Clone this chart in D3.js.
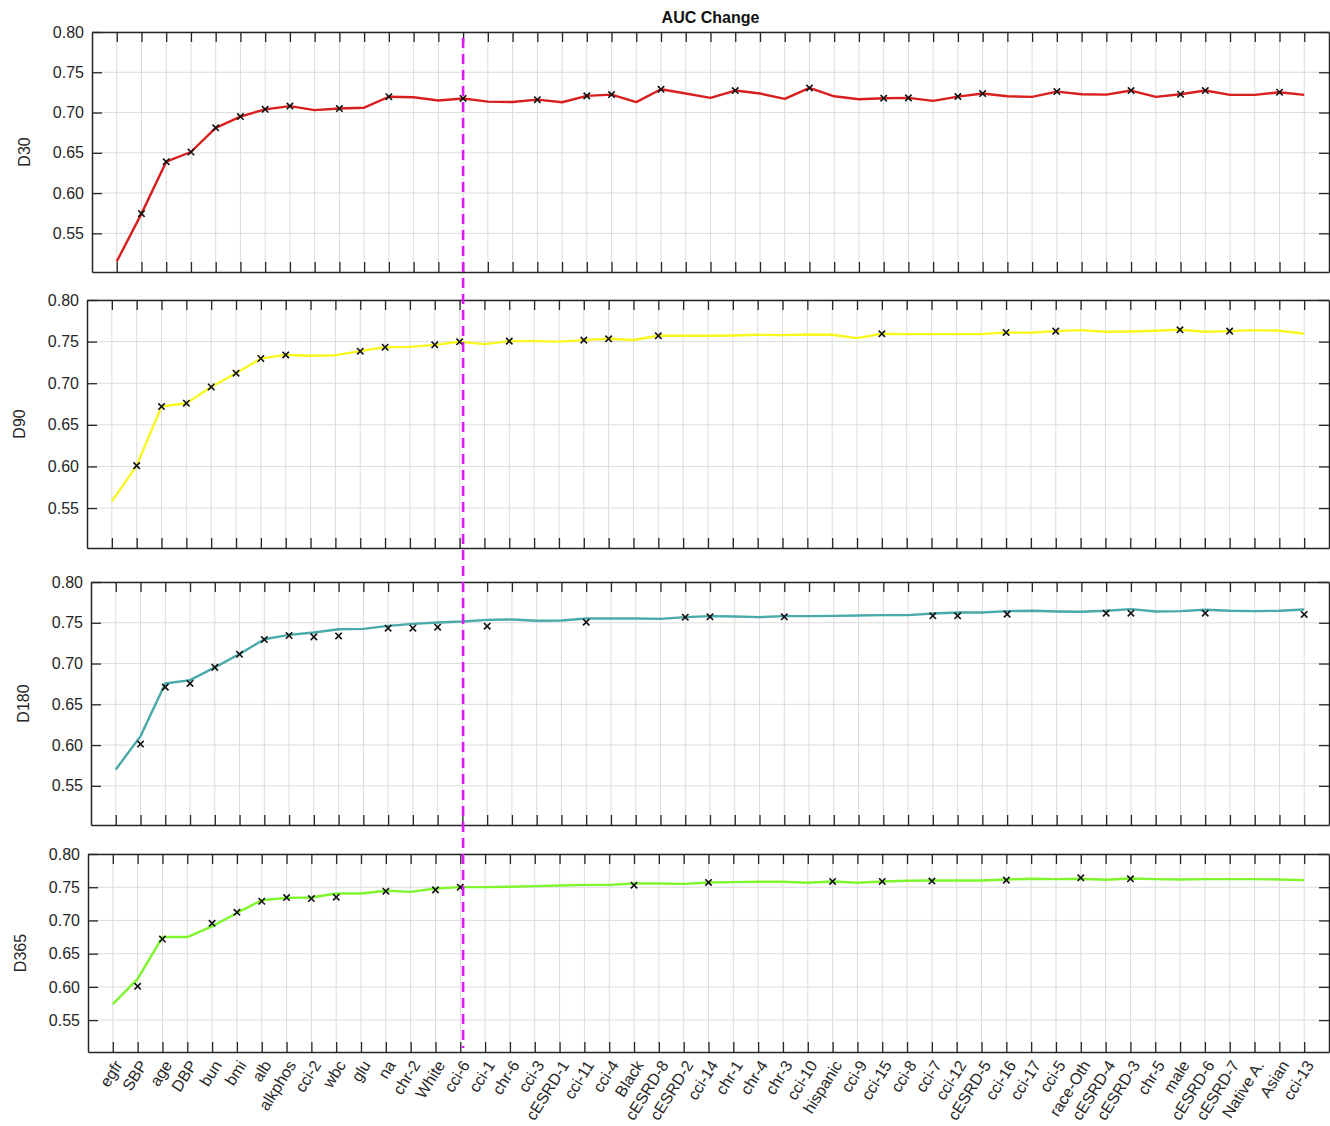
<!DOCTYPE html>
<html>
<head>
<meta charset="utf-8">
<script src="https://d3js.org/d3.v7.min.js"></script>
<style>
  body { margin: 0; background: #fff; }
  text { font-family: "Liberation Sans", Arial, Helvetica, sans-serif; fill: #262626; }
</style>
</head>
<body>
<script>
// feature order (x axis)
var features = ["egfr", "SBP", "age", "DBP", "bun", "bmi", "alb", "alkphos", "cci-2", "wbc",
  "glu", "na", "chr-2", "White", "cci-6", "cci-1", "chr-6", "cci-3", "cESRD-1", "cci-11",
  "cci-4", "Black", "cESRD-8", "cESRD-2", "cci-14", "chr-1", "chr-4", "chr-3", "cci-10", "hispanic",
  "cci-9", "cci-15", "cci-8", "cci-7", "cci-12", "cESRD-5", "cci-16", "cci-17", "cci-5", "race-Oth",
  "cESRD-4", "cESRD-3", "chr-5", "male", "cESRD-6", "cESRD-7", "Native A.", "Asian", "cci-13"];

var yTicks = [0.55, 0.60, 0.65, 0.70, 0.75, 0.80];
var cutFeature = 15;   // cci-6, dashed line

// AUC curves
var d30 = [0.515, 0.5745, 0.639, 0.651, 0.681, 0.695, 0.704, 0.708, 0.703, 0.705,
  0.706, 0.7196, 0.719, 0.715, 0.7175, 0.7135, 0.713, 0.716, 0.7128, 0.7207,
  0.7223, 0.713, 0.7289, 0.7236, 0.7182, 0.7273, 0.7236, 0.717, 0.7306, 0.7202,
  0.7165, 0.7178, 0.7182, 0.7145, 0.7198, 0.7236, 0.7202, 0.7194, 0.726, 0.7227,
  0.7223, 0.7273, 0.7194, 0.7227, 0.7273, 0.7219, 0.7219, 0.7252, 0.7219];
var d90 = [0.558, 0.601, 0.672, 0.676, 0.6955, 0.712, 0.7297, 0.734, 0.733, 0.7337,
  0.7385, 0.7433, 0.7437, 0.7461, 0.7498, 0.747, 0.7506, 0.7506, 0.750, 0.7518,
  0.7534, 0.752, 0.757, 0.757, 0.757, 0.7574, 0.7582, 0.7578, 0.7586, 0.7582,
  0.7542, 0.7594, 0.759, 0.759, 0.759, 0.759, 0.761, 0.7606, 0.7626, 0.7638,
  0.7618, 0.7622, 0.763, 0.7642, 0.7618, 0.7626, 0.7638, 0.763, 0.7594];
var d180 = [0.570, 0.611, 0.6756, 0.6797, 0.6953, 0.7117, 0.7298, 0.7351, 0.738, 0.7421,
  0.7425, 0.7462, 0.7487, 0.7503, 0.7516, 0.7536, 0.754, 0.7524, 0.7528, 0.7553,
  0.7553, 0.7553, 0.7548, 0.7569, 0.7581, 0.7577, 0.7569, 0.7581, 0.7581, 0.7585,
  0.759, 0.7594, 0.7594, 0.7614, 0.7626, 0.7626, 0.7643, 0.7647, 0.7639, 0.7635,
  0.7647, 0.7667, 0.7639, 0.7643, 0.7659, 0.7647, 0.7643, 0.7647, 0.7663];
var d365 = [0.574, 0.612, 0.675, 0.675, 0.6911, 0.7113, 0.7304, 0.734, 0.7345, 0.7405,
  0.7405, 0.7446, 0.743, 0.7481, 0.7501, 0.7501, 0.7506, 0.7516, 0.7526, 0.7536,
  0.7536, 0.7556, 0.7556, 0.7551, 0.7572, 0.7577, 0.7582, 0.7582, 0.7567, 0.7587,
  0.7567, 0.7587, 0.7597, 0.7602, 0.7602, 0.7602, 0.7617, 0.7627, 0.7622, 0.7627,
  0.7612, 0.7632, 0.7622, 0.7617, 0.7622, 0.7622, 0.7622, 0.7617, 0.7607];

// 'x' markers: feature number (1-based) and value
var d30Marks = [2, 3, 4, 5, 6, 7, 8, 10, 12, 15, 18, 20, 21, 23, 26, 29, 32, 33, 35, 36, 39, 42, 44, 45, 48];
var d90Marks = [2, 3, 4, 5, 6, 7, 8, 11, 12, 14, 15, 17, 20, 21, 23, 32, 37, 39, 44, 46];
var d180Marks = [2, 3, 4, 5, 6, 7, 8, 9, 10, 12, 13, 14, 16, 20, 24, 25, 28, 34, 35, 37, 41, 42, 45, 49];
var d180MarkVals = [0.6013, 0.6711, 0.6756, 0.6953, 0.7113, 0.7294, 0.7343, 0.7327, 0.7339, 0.7433,
  0.7433, 0.7446, 0.7458, 0.7507, 0.7569, 0.7573, 0.7573, 0.7585, 0.7585, 0.7606,
  0.7618, 0.7618, 0.7618, 0.7602];
var d365Marks = [2, 3, 5, 6, 7, 8, 9, 10, 12, 14, 15, 22, 25, 30, 32, 34, 37, 40, 42];
var d365MarkVals = [0.6009, 0.672, 0.6957, 0.7123, 0.7289, 0.7345, 0.733, 0.735, 0.744, 0.746,
  0.750, 0.7531, 0.7572, 0.7587, 0.7587, 0.7592, 0.7607, 0.7642, 0.7627];

var panels = [
  {name: "D30", values: d30, marks: d30Marks, markVals: d30Marks.map(function(i) { return d30[i - 1]; }),
   color: "#d81e1e", left: 92, top: 32, bottom: 272},
  {name: "D90", values: d90, marks: d90Marks, markVals: d90Marks.map(function(i) { return d90[i - 1]; }),
   color: "#f8f820", left: 87, top: 300, bottom: 548},
  {name: "D180", values: d180, marks: d180Marks, markVals: d180MarkVals,
   color: "#4aa9a9", left: 91, top: 582, bottom: 825},
  {name: "D365", values: d365, marks: d365Marks, markVals: d365MarkVals,
   color: "#7ef52c", left: 88, top: 854, bottom: 1052}
];

var width = 1330, height = 1126, right = 1329;

var svg = d3.select("body").append("svg")
    .attr("width", width)
    .attr("height", height);

var scales = [];

panels.forEach(function(p, k) {
  var x = d3.scaleLinear().domain([0, 50]).range([p.left, right]);
  var y = d3.scaleLinear().domain([0.502, 0.80]).range([p.bottom, p.top]);
  scales.push({x: x, y: y});
  var xt = d3.range(1, 50);
  var g = svg.append("g");

  // grid
  g.append("g").selectAll("line").data(xt).enter().append("line")
      .attr("x1", x).attr("x2", x).attr("y1", p.top).attr("y2", p.bottom)
      .style("stroke", "#dcdcdc").style("stroke-width", 1);
  g.append("g").selectAll("line").data(yTicks).enter().append("line")
      .attr("x1", p.left).attr("x2", right).attr("y1", y).attr("y2", y)
      .style("stroke", "#dcdcdc").style("stroke-width", 1);

  // curve
  var line = d3.line()
      .x(function(d, i) { return x(i + 1); })
      .y(function(d) { return y(d); });
  g.append("path")
      .datum(p.values)
      .attr("d", line)
      .style("fill", "none")
      .style("stroke", p.color)
      .style("stroke-width", 2.4)
      .style("stroke-linejoin", "round");

  // markers
  g.append("g").selectAll("path").data(p.marks).enter().append("path")
      .attr("transform", function(d, i) { return "translate(" + x(d) + "," + y(p.markVals[i]) + ")"; })
      .attr("d", "M-3.2,-3.2L3.2,3.2M-3.2,3.2L3.2,-3.2")
      .style("stroke", "#111")
      .style("stroke-width", 1.6);

  // axes (ticks pointing inward, MATLAB box)
  var axB = d3.axisBottom(x).tickValues(xt).tickSizeInner(-10).tickSizeOuter(0)
      .tickFormat(function(d) { return k === panels.length - 1 ? features[d - 1] : ""; });
  var axT = d3.axisTop(x).tickValues(xt).tickSizeInner(-10).tickSizeOuter(0).tickFormat("");
  var axL = d3.axisLeft(y).tickValues(yTicks).tickSizeInner(-10).tickSizeOuter(0).tickPadding(8)
      .tickFormat(d3.format(".2f"));
  var axR = d3.axisRight(y).tickValues(yTicks).tickSizeInner(-10).tickSizeOuter(0).tickFormat("");

  var gb = g.append("g").attr("transform", "translate(0," + p.bottom + ")").call(axB);
  g.append("g").attr("transform", "translate(0," + p.top + ")").call(axT);
  var gl = g.append("g").attr("transform", "translate(" + p.left + ",0)").call(axL);
  g.append("g").attr("transform", "translate(" + right + ",0)").call(axR);

  g.selectAll(".domain").style("stroke", "#262626").style("stroke-width", 1.5);
  g.selectAll(".tick line").style("stroke", "#262626").style("stroke-width", 1.3);
  gl.selectAll("text").style("font-size", "16px").style("fill", "#262626");

  if (k === panels.length - 1) {
    gb.selectAll("text")
        .style("font-size", "16px")
        .style("fill", "#262626")
        .attr("text-anchor", "end")
        .attr("dy", "0.35em")
        .attr("transform", "translate(5,10) rotate(-58)")
        .attr("x", 0).attr("y", 0);
  }

  // y label
  g.append("text")
      .attr("transform", "translate(" + (p.left - 62) + "," + ((p.top + p.bottom) / 2) + ") rotate(-90)")
      .attr("text-anchor", "middle")
      .style("font-size", "16px")
      .text(p.name);
});

// title
svg.append("text")
    .attr("x", (panels[0].left + right) / 2)
    .attr("y", 23)
    .attr("text-anchor", "middle")
    .style("font-size", "16px")
    .style("font-weight", "bold")
    .style("fill", "#111")
    .text("AUC Change");

// dashed cut line across all panels
svg.append("line")
    .attr("x1", scales[0].x(cutFeature)).attr("x2", scales[0].x(cutFeature))
    .attr("y1", panels[0].top + 6).attr("y2", panels[3].bottom - 4)
    .style("stroke", "#d91cf7")
    .style("stroke-width", 2.6)
    .style("stroke-dasharray", "10,6");
</script>
</body>
</html>
